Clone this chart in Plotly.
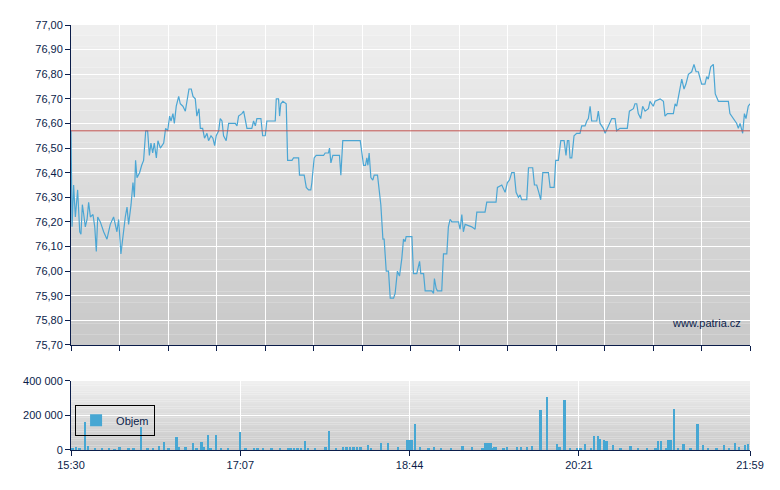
import plotly.graph_objects as go

# minutes after 15:30 and price
price_min = [0, 0.6, 1.5, 2.5, 3.8, 5.0, 5.7, 6.5, 7.3, 8.2, 9.2, 10.1, 11.1, 12.6, 13.6, 14.5, 15.3, 16.8,
             18.7, 20.6, 22.5, 24.4, 26.3, 27.3, 28.6, 29.8, 31.1, 32.1, 33.0, 34.4, 35.5, 36.3, 37.0, 37.8,
             39.3, 40.5, 41.6, 42.8, 43.9, 44.9, 45.8, 46.8, 47.7, 48.9, 49.8, 51.2, 52.1, 53.1, 54.2, 55.4,
             56.5, 57.3, 58.4, 59.2, 60.3, 61.7, 62.6, 64.1, 65.5, 66.8, 67.6, 68.9, 69.9, 71.2, 72.1, 73.3,
             74.1, 75.4, 76.5, 77.9, 78.8, 80.2, 81.3, 82.3, 83.2, 84.6, 85.5, 86.5, 87.4, 88.9, 90.3, 94.1,
             95.1, 96.0, 97.9, 98.9, 99.8, 100.8, 103.6, 104.6, 105.6, 106.5, 108.8, 109.8, 111.3, 112.2,
             117.0, 117.6, 118.9, 119.5, 120.2, 121.4, 123.3, 124.1, 126.6, 127.5, 130.4, 130.9, 133.6, 134.8,
             136.1, 137.4, 138.0, 139.3, 140.5, 144.7, 145.6, 147.5, 148.1, 148.9, 150.0, 153.8, 154.6, 155.7,
             159.9, 165.7, 167.6, 168.7, 169.5, 170.1, 170.8, 171.8, 172.9, 173.7, 175.6, 176.7, 177.5, 178.7,
             179.4, 180.6, 181.9, 182.9,
             184.8, 185.7, 187.0, 188.2, 189.5, 190.5, 191.4, 192.0, 195.3, 196.2, 198.1, 199.7, 200.4, 202.0,
             202.9, 206.7, 207.7, 208.2, 209.2, 209.9, 212.4, 213.4, 215.3, 216.2, 217.2, 218.2, 222.0, 222.9,
             223.9, 224.8, 225.8, 229.6, 231.5, 232.5, 237.2, 238.2, 243.5, 244.3, 246.8, 248.7, 250.0, 251.2,
             252.5, 253.9, 255.0, 256.3, 257.3, 258.2, 261.1, 262.1, 264.5, 265.5, 266.8, 268.0, 269.1, 270.3,
             273.5, 274.5, 276.8, 277.7, 279.2, 280.6, 282.5, 283.6, 284.4, 285.2, 285.9, 286.9, 288.2, 289.7,
             291.6, 292.6, 294.5, 295.5, 296.4, 297.4, 298.3, 301.2, 302.1, 303.1, 305.0, 306.0, 307.9, 309.8,
             311.7, 312.6, 314.5, 318.7, 319.9, 322.2, 323.1, 324.1, 325.0, 326.4, 327.5, 328.9, 330.8, 331.7,
             333.6, 334.6, 337.5, 339.4, 340.3, 341.7, 345.1, 346.1, 347.0, 348.5, 349.9, 351.2, 352.3, 353.7,
             355.6, 356.9, 358.1, 359.4, 361.3, 363.2, 364.2, 365.1, 366.5, 368.0, 369.1, 370.9, 373.7, 376.6,
             377.5, 379.4, 381.4, 382.3, 383.3, 384.8, 385.8, 386.7, 388.0, 389.0]
price = [76.57, 76.18, 76.35, 76.22, 76.33, 76.16, 76.15, 76.27, 76.23, 76.18, 76.21, 76.28, 76.22, 76.23, 76.18,
         76.08, 76.22, 76.20, 76.16, 76.13, 76.19, 76.22, 76.16, 76.21, 76.07, 76.15, 76.22, 76.26, 76.19, 76.27,
         76.36, 76.30, 76.45, 76.38, 76.40, 76.43, 76.45, 76.57, 76.57, 76.47, 76.52, 76.48, 76.52, 76.46, 76.53,
         76.50, 76.51, 76.52, 76.58, 76.57, 76.63, 76.61, 76.64, 76.60, 76.67, 76.71, 76.68, 76.67, 76.65, 76.72,
         76.74, 76.74, 76.71, 76.70, 76.63, 76.66, 76.58, 76.58, 76.54, 76.56, 76.53, 76.55, 76.54, 76.51, 76.55,
         76.57, 76.62, 76.61, 76.55, 76.53, 76.60, 76.60, 76.59, 76.63, 76.64, 76.65, 76.61, 76.58, 76.58, 76.61,
         76.59, 76.62, 76.62, 76.55, 76.55, 76.61, 76.61, 76.70, 76.70, 76.63, 76.68, 76.69, 76.68, 76.45, 76.45,
         76.46, 76.46, 76.39, 76.39, 76.34, 76.33, 76.33, 76.36, 76.46, 76.47, 76.47, 76.48, 76.48, 76.50, 76.44,
         76.47, 76.47, 76.39, 76.53, 76.53, 76.53, 76.43, 76.43, 76.46, 76.43, 76.48, 76.38, 76.37, 76.39, 76.39,
         76.32, 76.27, 76.13, 76.13, 76.00, 76.00, 75.89,
         75.89, 75.91, 76.00, 75.98, 76.05, 76.13, 76.12, 76.14, 76.14, 75.99, 75.99, 76.04, 75.99, 75.99, 75.92,
         75.92, 75.91, 75.97, 75.93, 75.92, 75.92, 76.07, 76.07, 76.18, 76.21, 76.20, 76.20, 76.17, 76.23, 76.16,
         76.19, 76.18, 76.17, 76.24, 76.24, 76.28, 76.28, 76.34, 76.35, 76.32, 76.36, 76.37, 76.40, 76.40, 76.32,
         76.30, 76.31, 76.29, 76.29, 76.42, 76.42, 76.35, 76.35, 76.32, 76.29, 76.40, 76.40, 76.34, 76.34, 76.45,
         76.45, 76.53, 76.53, 76.47, 76.53, 76.53, 76.46, 76.46, 76.55, 76.56, 76.56, 76.59, 76.59, 76.61, 76.62,
         76.67, 76.61, 76.61, 76.65, 76.60, 76.58, 76.56, 76.59, 76.62, 76.62, 76.57, 76.58, 76.58, 76.65, 76.66,
         76.68, 76.68, 76.64, 76.62, 76.67, 76.65, 76.66, 76.69, 76.67, 76.69, 76.70, 76.69, 76.63, 76.64, 76.64,
         76.68, 76.67, 76.73, 76.78, 76.74, 76.76, 76.80, 76.81, 76.84, 76.81, 76.81, 76.76, 76.76, 76.79, 76.78,
         76.83, 76.84, 76.72, 76.69, 76.69, 76.69, 76.64, 76.62, 76.60, 76.58, 76.60, 76.56, 76.64, 76.62, 76.67,
         76.68]
prev_close = 76.57

vol_min = [1, 3, 5, 8, 10, 14, 18, 22, 25, 28, 33, 36, 40.2, 44, 47, 50.7, 53.5, 56, 60.7, 62, 65.8, 70, 72,
           74.9, 76, 78.6, 80, 83.2, 86, 90, 97.1, 100, 105, 107, 110, 115, 120, 124.7, 126, 128, 130, 132, 134.1,
           136, 140, 146, 148.1, 152, 156, 158, 160, 162, 164, 166, 170.3, 172, 177.7, 181.7, 187.4, 192.8, 193.9,
           195.1, 197.1, 200, 205, 208.2, 212, 218, 224.4, 230, 236, 237.6, 238.6, 239.6, 240.6, 241.6, 242.6,
           243.6, 248, 250, 255.7, 258, 261.4, 264.3, 269.1, 272.8, 278.5, 280, 282.8, 286, 290, 292, 294.7, 298,
           299.9, 301.9, 303.3, 305.6, 307, 310.7, 315, 320.6, 325, 330, 335, 336.5, 338.3, 341, 342.5, 344,
           345.7, 348, 351.1, 355, 359.1, 362.2, 365, 370, 374.2, 377, 380.5, 383, 386.2, 388]
volume = [8000, 20000, 6000, 165000, 25000, 8000, 6000, 7000, 5000, 18000, 9000, 8000, 135000, 10000, 8000,
          25000, 48000, 10000, 77000, 20000, 20000, 38000, 10000, 44000, 15000, 87000, 12000, 87000, 12000, 8000,
          105000, 8000, 12000, 12000, 12000, 6000, 8000, 14000, 14000, 14000, 14000, 14000, 52000, 8000, 10000,
          18000, 110000, 8000, 18000, 18000, 18000, 18000, 18000, 18000, 30000, 10000, 40000, 40000, 20000, 58000,
          58000, 58000, 150000, 18000, 8000, 18000, 8000, 8000, 25000, 20000, 8000, 40000, 40000, 40000, 40000,
          8000, 15000, 20000, 12000, 20000, 20000, 15000, 15000, 25000, 230000, 310000, 35000, 20000, 288000,
          8000, 12000, 12000, 35000, 10000, 80000, 80000, 62000, 57000, 52000, 29000, 8000, 23000, 10000, 12000,
          8000, 54000, 54000, 10000, 58000, 58000, 236000, 8000, 35000, 8000, 150000, 29000, 10000, 12000, 29000,
          12000, 40000, 15000, 29000, 35000]

tick_vals = [0, 97, 194, 291, 389]
tick_text = ["15:30", "17:07", "18:44", "20:21", "21:59"]

navy = "#0b1d4a"
font = dict(family="Liberation Sans, Arial, sans-serif", size=11, color=navy)

price_dom = [0.3043, 0.9851]
vol_dom = [0.0809, 0.2277]

fig = go.Figure()
fig.add_trace(go.Scatter(x=price_min, y=price, mode="lines", line=dict(color="#4ba6d4", width=1.2),
                         showlegend=False, xaxis="x", yaxis="y"))
fig.add_trace(go.Bar(x=vol_min, y=volume, width=1.1, marker=dict(color="#47a7d3", line=dict(width=0)),
                     name="Objem", xaxis="x2", yaxis="y2"))

# gradient background bands for both panels
shapes = []
for (y0, y1) in [price_dom, vol_dom]:
    n = 30
    for i in range(n):
        t = i / (n - 1)
        c = int(0xc9 + (0xef - 0xc9) * t)
        shapes.append(dict(type="rect", xref="paper", yref="paper", x0=0, x1=1,
                           y0=y0 + (y1 - y0) * i / n, y1=y0 + (y1 - y0) * (i + 1) / n,
                           fillcolor=f"rgb({c},{c},{c})", line=dict(width=0), layer="below"))
shapes.append(dict(type="line", xref="paper", yref="y", x0=0, x1=1, y0=prev_close, y1=prev_close,
                   line=dict(color="#c0504d", width=1)))
fig.update_layout(shapes=shapes)

axis_common = dict(showline=True, linecolor=navy, linewidth=1, gridcolor="white", gridwidth=1,
                   ticks="outside", ticklen=5, tickcolor=navy, zeroline=False, tickfont=font,
                   automargin=False)
fig.update_layout(
    width=780, height=490, margin=dict(l=63, r=38, t=10, b=10, autoexpand=False),
    paper_bgcolor="white", plot_bgcolor="rgba(0,0,0,0)",
    separators=", ", font=font, bargap=0,
    xaxis=dict(domain=[0, 1], anchor="y", range=[0, 389], tick0=0, dtick=389 / 14, showticklabels=False,
               **axis_common),
    yaxis=dict(domain=price_dom, range=[75.7, 77.0], dtick=0.1, tickformat=".2f", **axis_common),
    xaxis2=dict(domain=[0, 1], anchor="y2", range=[0, 389], tickvals=tick_vals, ticktext=tick_text,
                **axis_common),
    yaxis2=dict(domain=vol_dom, range=[0, 400000], tickvals=[0, 200000, 400000], tickformat=",d",
                **axis_common),
    legend=dict(x=0.006, y=0.177, xanchor="left", yanchor="top", bgcolor="rgba(0,0,0,0)",
                bordercolor="black", borderwidth=1, font=font),
    annotations=[dict(text="www.patria.cz", xref="paper", yref="paper", x=0.99, y=0.351, xanchor="right",
                      yanchor="middle", showarrow=False, font=font)],
)

fig.write_html("out.html")
